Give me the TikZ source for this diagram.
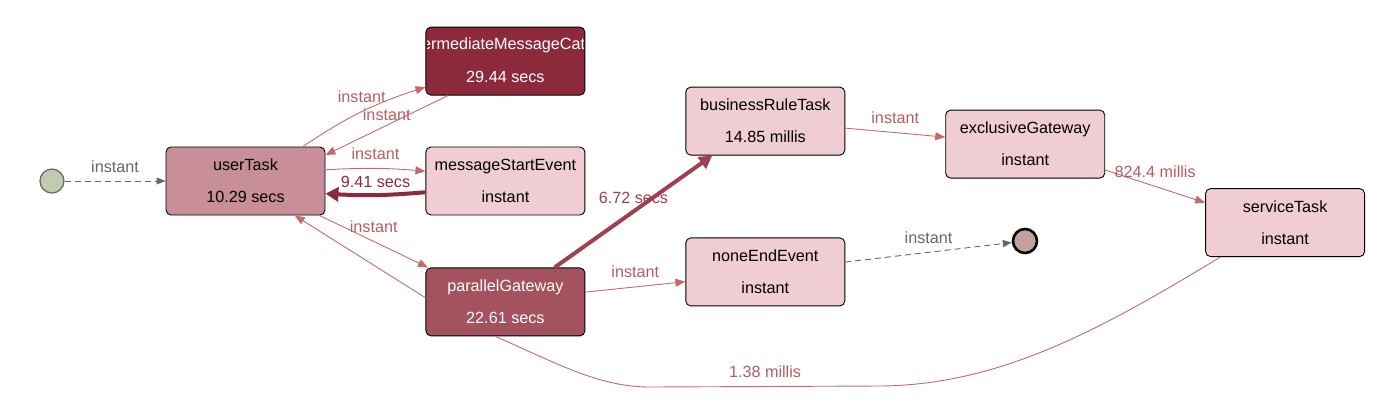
\documentclass[tikz,border=0pt]{standalone}
\usepackage{fontspec}
\setmainfont{Liberation Sans}
\usetikzlibrary{arrows.meta,positioning}
\definecolor{tasklight}{HTML}{EFCDD2}
\definecolor{taskmid}{HTML}{C98F99}
\definecolor{taskdark}{HTML}{8C2A3C}
\definecolor{taskrose}{HTML}{A5525F}
\definecolor{edgelight}{HTML}{C46A6D}
\definecolor{lbllight}{HTML}{B85C62}
\definecolor{edgedark}{HTML}{8C2A3C}
\definecolor{edgerose}{HTML}{A03F4D}
\definecolor{flowgray}{HTML}{666666}
\definecolor{startfill}{HTML}{C3CBAF}
\definecolor{endfill}{HTML}{C4A0A0}
\tikzstyle{task}=[draw, rounded corners=5pt, minimum width=159pt, minimum height=68pt, align=center, line width=0.9pt]
\tikzstyle{arrow}=[edgelight, line width=0.9pt, -{Triangle[length=10pt,width=8pt]}]
\tikzstyle{heavy}=[line width=4pt, -{Triangle[length=13pt,width=14pt]}]
\tikzstyle{flow}=[flowgray, line width=0.9pt, dash pattern=on 6pt off 4pt, -{Triangle[length=9pt,width=7pt]}]
\tikzstyle{lbl}=[above=5pt, text=lbllight]

\begin{document}
\begin{tikzpicture}[x=1pt,y=-1pt,font=\fontsize{16.2}{32}\selectfont]
\useasboundingbox (0,0) rectangle (1399,413);
\node (ut) [task,fill=taskmid] at (245.5,181) {userTask\\10.29 secs};
\node (start) [circle,draw=flowgray,fill=startfill,line width=1.2pt,minimum size=24pt,inner sep=0pt,left=101pt of ut] {};
\node (mse) [task,fill=tasklight,right=100pt of ut] {messageStartEvent\\instant};
\node (imc) [task,fill=taskdark,above=51pt of mse] {};
\begin{scope}
\clip ([shift={(2pt,1pt)}]imc.south west) rectangle ([shift={(-2pt,-1pt)}]imc.north east);
\node (imcname) [text=white,xshift=19pt,yshift=16pt] at (imc.center) {intermediateMessageCatchEvent};
\end{scope}
\node (imctime) [text=white,yshift=-16pt] at (imc.center) {29.44 secs};
\node (pg) [task,fill=taskrose,text=white,below=52pt of mse] {parallelGateway\\22.61 secs};
\node (brt) [task,fill=tasklight,right=100pt of imc,yshift=-60pt] {businessRuleTask\\14.85 millis};
\node (nee) [task,fill=tasklight,right=100pt of pg,yshift=30pt] {noneEndEvent\\instant};
\node (xg) [task,fill=tasklight,right=100pt of brt,yshift=-23pt] {exclusiveGateway\\instant};
\node (st) [task,fill=tasklight,right=100pt of xg,yshift=-78.5pt] {serviceTask\\instant};
\node (endev) [circle,draw=black,fill=endfill,line width=2.6pt,minimum size=24pt,inner sep=0pt] at (1025,241) {};

\draw[flow] (start) -- node[above=5pt,text=flowgray]{instant} (ut);
\draw[arrow] (ut.31) to[bend left=8] node[lbl]{instant} (imc.198);
\draw[arrow] (imc.211) -- node[above=1pt,text=lbllight]{instant} (ut.18);
\draw[arrow] (ut.8) to[bend left=4] node[lbl]{instant} (mse.173);
\draw[heavy,edgedark] (mse.188) to[bend left=4] node[above=2pt,text=edgedark]{9.41 secs} (ut.-9);
\draw[arrow] (ut.-25) -- node[lbl]{instant} (pg.156);
\draw[arrow] (pg.177) -- (ut.-35);
\draw[heavy,edgerose] (pg.35) -- node[midway,yshift=14pt,text=edgerose]{6.72 secs} (brt.213);
\draw[arrow] (pg.7) -- node[lbl]{instant} (nee.187);
\draw[arrow] (brt.-5) -- node[lbl]{instant} (xg.175);
\draw[flow] (nee.7) -- node[above=5pt,text=flowgray]{instant} (endev);
\draw[arrow] (xg.-18) -- node[lbl,pos=0.5]{824.4 millis} (st.166);
\draw[edgelight,line width=0.9pt] (st.208) .. controls (1100,330) and (1000,385) .. (880,386)
  -- node[lbl]{1.38 millis} (650,387) .. controls (600,387) and (560,365) .. (pg.254);

\end{tikzpicture}
\end{document}
